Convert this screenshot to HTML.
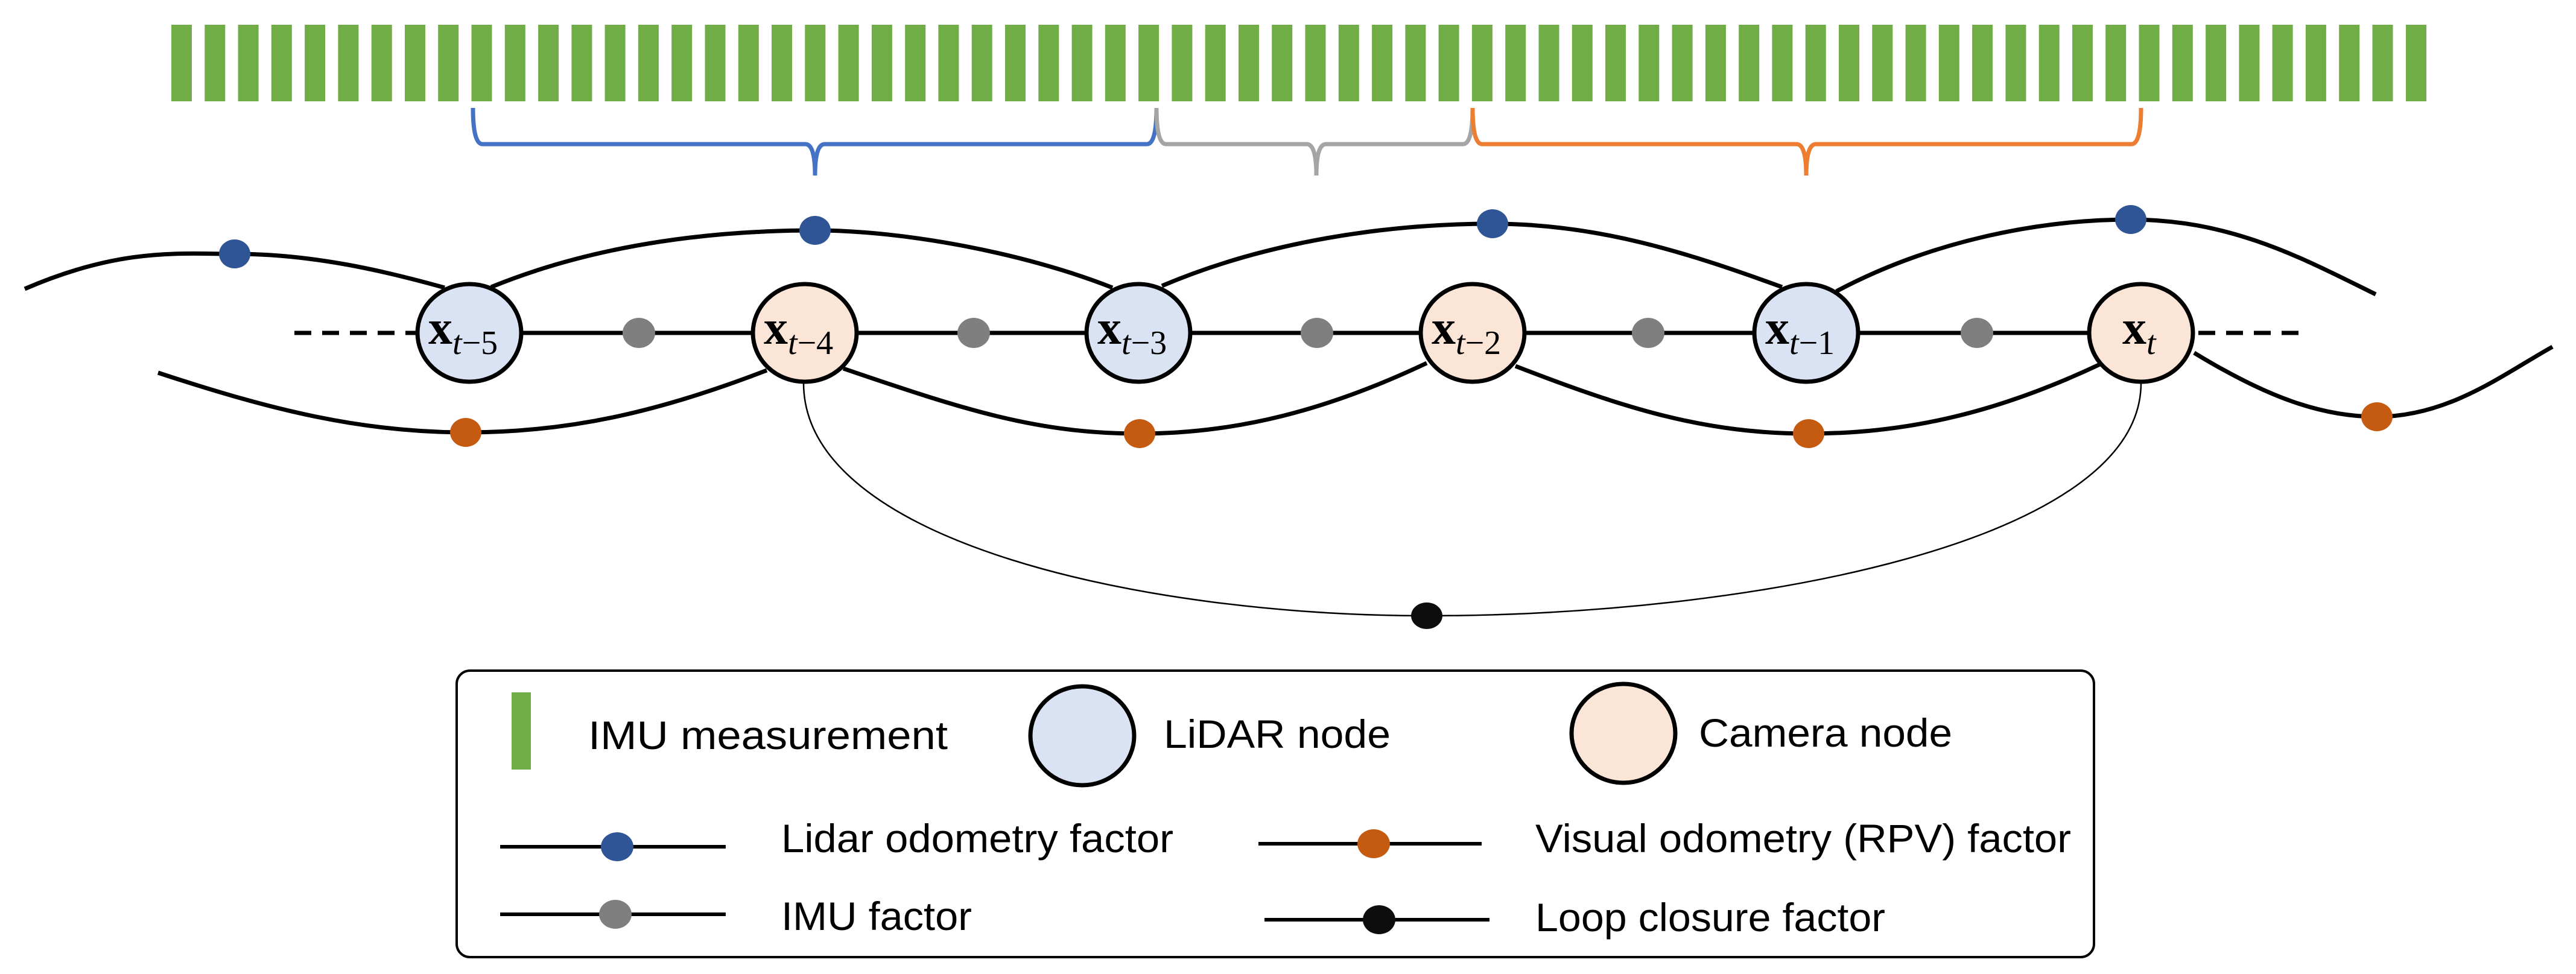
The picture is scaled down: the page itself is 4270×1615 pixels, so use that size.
<!DOCTYPE html>
<html><head><meta charset="utf-8"><style>
html,body{margin:0;padding:0;background:#fff;}
svg{display:block;}
</style></head><body>
<svg width="4270" height="1615" viewBox="0 0 4270 1615" xmlns="http://www.w3.org/2000/svg">
<rect width="4270" height="1615" fill="#fff"/>
<defs><rect id="b" width="34" height="127" fill="#70AD47"/></defs>
<g transform="translate(284,41)">
<use href="#b" x="0"/><use href="#b" x="55.3"/><use href="#b" x="110.6"/><use href="#b" x="165.8"/><use href="#b" x="221.1"/><use href="#b" x="276.4"/><use href="#b" x="331.7"/><use href="#b" x="387"/><use href="#b" x="442.2"/><use href="#b" x="497.5"/>
<use href="#b" x="552.8"/><use href="#b" x="608.1"/><use href="#b" x="663.4"/><use href="#b" x="718.6"/><use href="#b" x="773.9"/><use href="#b" x="829.2"/><use href="#b" x="884.5"/><use href="#b" x="939.8"/><use href="#b" x="995"/><use href="#b" x="1050.3"/>
<use href="#b" x="1105.6"/><use href="#b" x="1160.9"/><use href="#b" x="1216.2"/><use href="#b" x="1271.4"/><use href="#b" x="1326.7"/><use href="#b" x="1382"/><use href="#b" x="1437.3"/><use href="#b" x="1492.6"/><use href="#b" x="1547.8"/><use href="#b" x="1603.1"/>
<use href="#b" x="1658.4"/><use href="#b" x="1713.7"/><use href="#b" x="1769"/><use href="#b" x="1824.2"/><use href="#b" x="1879.5"/><use href="#b" x="1934.8"/><use href="#b" x="1990.1"/><use href="#b" x="2045.4"/><use href="#b" x="2100.6"/><use href="#b" x="2155.9"/>
<use href="#b" x="2211.2"/><use href="#b" x="2266.5"/><use href="#b" x="2321.8"/><use href="#b" x="2377"/><use href="#b" x="2432.3"/><use href="#b" x="2487.6"/><use href="#b" x="2542.9"/><use href="#b" x="2598.2"/><use href="#b" x="2653.4"/><use href="#b" x="2708.7"/>
<use href="#b" x="2764"/><use href="#b" x="2819.3"/><use href="#b" x="2874.6"/><use href="#b" x="2929.8"/><use href="#b" x="2985.1"/><use href="#b" x="3040.4"/><use href="#b" x="3095.7"/><use href="#b" x="3151"/><use href="#b" x="3206.2"/><use href="#b" x="3261.5"/>
<use href="#b" x="3316.8"/><use href="#b" x="3372.1"/><use href="#b" x="3427.4"/><use href="#b" x="3482.6"/><use href="#b" x="3537.9"/><use href="#b" x="3593.2"/><use href="#b" x="3648.5"/><use href="#b" x="3704"/>
</g>
<g fill="none" stroke-width="7">
<path d="M784 179 Q784 239 800 239 H1335 Q1351 239 1351 291 Q1351 239 1367 239 H1901 Q1917 239 1917 179" stroke="#4472C4"/>
<path d="M1917 179 Q1917 239 1933 239 H2166 Q2182 239 2182 291 Q2182 239 2198 239 H2425 Q2441 239 2441 179" stroke="#A5A5A5"/>
<path d="M2441 179 Q2441 239 2457 239 H2978 Q2994 239 2994 291 Q2994 239 3010 239 H3533 Q3549 239 3549 179" stroke="#ED7D31"/>
</g>
<g fill="none" stroke="#000" stroke-width="7">
<path d="M41 479 C 200 410, 300 421, 389 421 C 520 421, 640 450, 737 477"/>
<path d="M814 476 C 1000 400, 1200 382, 1351 382 C 1500 382, 1700 420, 1844 477"/>
<path d="M1926 474 C 2100 400, 2300 371, 2474 371 C 2650 371, 2800 420, 2954 476"/>
<path d="M3044 483 C 3200 400, 3380 364, 3532 364 C 3700 364, 3820 430, 3938 488"/>
<path d="M262 618 C 450 680, 600 717, 772 717 C 950 717, 1100 680, 1271 614"/>
<path d="M1398 611 C 1600 680, 1720 719, 1889 719 C 2050 719, 2200 680, 2365 602"/>
<path d="M2512 607 C 2700 680, 2830 719, 2998 719 C 3170 719, 3320 680, 3481 604"/>
<path d="M3637 585 C 3760 660, 3850 691, 3940 691 C 4060 691, 4150 620, 4231 575"/>
<path d="M682 552 H3549"/>
<path d="M488 552 H682" stroke-dasharray="28 18"/>
<path d="M3644 552 H3828" stroke-dasharray="28 18"/>
</g>
<path d="M1332 635 C 1332 900, 1900 1021, 2365 1021 C 2900 1021, 3549 900, 3549 635" fill="none" stroke="#000" stroke-width="2.5"/>
<g fill="#7F7F7F">
<ellipse cx="1059" cy="552" rx="27" ry="25"/><ellipse cx="1614" cy="552" rx="27" ry="25"/>
<ellipse cx="2183" cy="552" rx="27" ry="25"/><ellipse cx="2732" cy="552" rx="27" ry="25"/>
<ellipse cx="3277" cy="552" rx="27" ry="25"/>
</g>
<g fill="#2F5597">
<ellipse cx="389" cy="421" rx="26" ry="24"/><ellipse cx="1351" cy="382" rx="26" ry="24"/>
<ellipse cx="2474" cy="371" rx="26" ry="24"/><ellipse cx="3532" cy="364" rx="26" ry="24"/>
</g>
<g fill="#C55A11">
<ellipse cx="772" cy="717" rx="26" ry="24"/><ellipse cx="1889" cy="719" rx="26" ry="24"/>
<ellipse cx="2998" cy="719" rx="26" ry="24"/><ellipse cx="3940" cy="691" rx="26" ry="24"/>
</g>
<ellipse cx="2365" cy="1021" rx="26" ry="22" fill="#0d0d0d"/>
<g stroke="#000" stroke-width="7">
<ellipse cx="778" cy="552" rx="86" ry="81" fill="#DAE3F3"/>
<ellipse cx="1334" cy="552" rx="86" ry="81" fill="#FBE5D6"/>
<ellipse cx="1887" cy="552" rx="86" ry="81" fill="#DAE3F3"/>
<ellipse cx="2441" cy="552" rx="86" ry="81" fill="#FBE5D6"/>
<ellipse cx="2994" cy="552" rx="86" ry="81" fill="#DAE3F3"/>
<ellipse cx="3549" cy="552" rx="86" ry="81" fill="#FBE5D6"/>
</g>
<g font-family="Liberation Serif, serif" fill="#000">
<text x="710" y="570" font-size="80" font-weight="bold">x<tspan font-weight="normal" font-style="italic" font-size="56" dy="17">t</tspan><tspan font-weight="normal" font-size="56">−5</tspan></text>
<text x="1266" y="570" font-size="80" font-weight="bold">x<tspan font-weight="normal" font-style="italic" font-size="56" dy="17">t</tspan><tspan font-weight="normal" font-size="56">−4</tspan></text>
<text x="1819" y="570" font-size="80" font-weight="bold">x<tspan font-weight="normal" font-style="italic" font-size="56" dy="17">t</tspan><tspan font-weight="normal" font-size="56">−3</tspan></text>
<text x="2373" y="570" font-size="80" font-weight="bold">x<tspan font-weight="normal" font-style="italic" font-size="56" dy="17">t</tspan><tspan font-weight="normal" font-size="56">−2</tspan></text>
<text x="2926" y="570" font-size="80" font-weight="bold">x<tspan font-weight="normal" font-style="italic" font-size="56" dy="17">t</tspan><tspan font-weight="normal" font-size="56">−1</tspan></text>
<text x="3518" y="570" font-size="80" font-weight="bold">x<tspan font-weight="normal" font-style="italic" font-size="56" dy="17">t</tspan></text>
</g>
<rect x="757" y="1112" width="2714" height="475" rx="22" fill="#fff" stroke="#000" stroke-width="4"/>
<rect x="848" y="1148" width="32" height="128" fill="#70AD47"/>
<ellipse cx="1794" cy="1220" rx="86" ry="82" fill="#DAE3F3" stroke="#000" stroke-width="7"/>
<ellipse cx="2691" cy="1216" rx="86" ry="82" fill="#FBE5D6" stroke="#000" stroke-width="7"/>
<g stroke="#000" stroke-width="6">
<path d="M829 1404 H1203"/><path d="M2086 1399 H2456"/>
<path d="M829 1516 H1203"/><path d="M2096 1525 H2469"/>
</g>
<ellipse cx="1023" cy="1404" rx="27" ry="24" fill="#2F5597"/>
<ellipse cx="2277" cy="1399" rx="27" ry="24" fill="#C55A11"/>
<ellipse cx="1020" cy="1516" rx="27" ry="24" fill="#7F7F7F"/>
<ellipse cx="2286" cy="1525" rx="27" ry="24" fill="#0d0d0d"/>
<g font-family="Liberation Sans, sans-serif" font-size="66" fill="#000">
<text x="975" y="1242" textLength="596" lengthAdjust="spacingAndGlyphs">IMU measurement</text>
<text x="1929" y="1240" textLength="376" lengthAdjust="spacingAndGlyphs">LiDAR node</text>
<text x="2816" y="1238" textLength="420" lengthAdjust="spacingAndGlyphs">Camera node</text>
<text x="1295" y="1413" textLength="650" lengthAdjust="spacingAndGlyphs">Lidar odometry factor</text>
<text x="2545" y="1413" textLength="888" lengthAdjust="spacingAndGlyphs">Visual odometry (RPV) factor</text>
<text x="1295" y="1542" textLength="316" lengthAdjust="spacingAndGlyphs">IMU factor</text>
<text x="2545" y="1544" textLength="580" lengthAdjust="spacingAndGlyphs">Loop closure factor</text>
</g>
</svg>
</body></html>
